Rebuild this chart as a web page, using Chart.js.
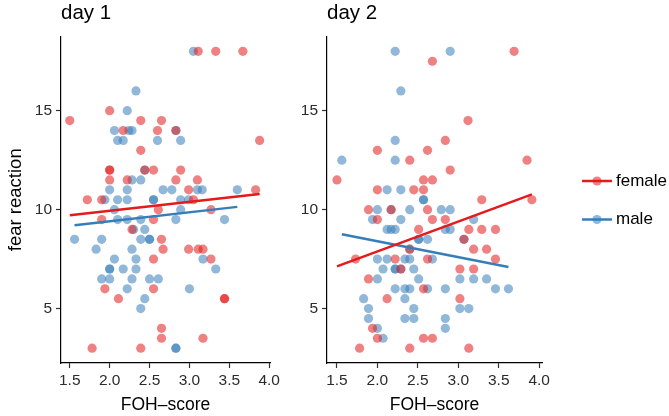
<!DOCTYPE html>
<html>
<head>
<meta charset="utf-8">
<script src="https://cdn.jsdelivr.net/npm/chart.js@4.4.1/dist/chart.umd.min.js"></script>
<style>
  body { margin: 0; background: #fff; width: 669px; height: 416px; position: relative; overflow: hidden; }
  canvas { position: absolute; top: 0; }
</style>
</head>
<body>
<canvas id="day1" width="290" height="416" style="left:0px"></canvas>
<canvas id="day2" width="384" height="416" style="left:285px"></canvas>
<script>
// tick labels
const xTicks = [1.5, 2.0, 2.5, 3.0, 3.5, 4.0];
const yTicks = [5, 10, 15];
const groups = ["female", "male"];
const panels = ["day 1", "day 2"];

// day 1 points (FOH-score, fear reaction)
const day1FemaleX = [2.00, 1.50, 2.39, 2.65, 2.17, 2.60, 2.83, 2.39, 3.88, 2.00, 2.00, 2.44, 2.55, 2.89, 2.00, 2.22,
  2.83, 3.10, 2.99, 3.83, 1.72, 1.90, 3.05, 2.61, 3.27, 1.90, 2.55, 2.28, 2.65, 2.67, 2.99, 3.11, 3.17, 2.55, 3.27,
  1.94, 2.55, 2.11, 3.44, 3.44, 2.65, 2.65, 3.17, 1.78, 2.39, 3.11, 3.33, 3.67];
const day1FemaleY = [15, 14.5, 14.5, 14.5, 14, 14, 14, 13, 13.5, 12, 12, 12, 12, 12, 11.5, 11.5,
  11.5, 11.5, 11, 11, 10.5, 10.5, 10.5, 10, 10, 9.5, 9.5, 9, 8.5, 8, 8, 8, 8, 7.5, 7.5,
  6, 6, 5.5, 5.5, 5.5, 4, 3.5, 3.5, 3, 3, 18, 18, 18];
const day1MaleX = [2.33, 2.22, 3.05, 2.06, 2.24, 2.28, 2.83, 2.10, 2.17, 2.60, 2.89, 2.44, 2.28, 2.39, 2.00, 2.22,
  2.67, 2.78, 3.10, 3.16, 3.60, 1.94, 2.10, 2.22, 2.55, 2.55, 2.89, 2.99, 2.06, 2.89, 2.10, 2.22, 2.39, 2.83, 3.44,
  2.30, 2.44, 1.56, 1.90, 2.39, 2.50, 2.50, 1.83, 2.28, 2.06, 2.33, 3.17, 2.00, 2.00, 2.17, 2.33, 3.33,
  1.90, 2.00, 2.28, 2.50, 2.61, 2.22, 3.00, 2.44, 2.39, 2.83, 2.83];
const day1MaleY = [16, 15, 18, 14, 14, 14, 14, 13.5, 13.5, 13.5, 13.5, 12, 11.5, 11.5, 11, 11,
  11, 11, 11, 11, 11, 10.5, 10.5, 10.5, 10.5, 10.5, 10.5, 10.5, 10, 10, 9.5, 9.5, 9.5, 9.5, 9.5,
  9, 9, 8.5, 8.5, 8.5, 8.5, 8.5, 8, 8, 7.5, 7.5, 7.5, 7, 7, 7, 7, 7,
  6.5, 6.5, 6.5, 6.5, 6.5, 6, 6, 5.5, 5, 3, 3];

// day 2 points
const day2FemaleX = [2.68, 3.69, 3.12, 2.84, 2.00, 2.62, 2.40, 3.85, 2.90, 1.50, 2.57, 2.68, 2.00, 2.45, 2.57, 3.29,
  3.91, 1.89, 2.17, 2.62, 2.00, 2.68, 2.84, 2.51, 3.13, 3.29, 3.46, 3.07, 2.40, 3.19, 3.35, 1.73, 2.22, 2.62, 3.46,
  2.29, 3.02, 3.19, 1.89, 2.57, 2.12, 3.02, 1.94, 2.00, 2.57, 2.68, 1.78, 2.40, 3.13];
const day2FemaleY = [17.5, 18, 14.5, 13.5, 13, 13, 12.5, 12.5, 12, 11.5, 11.5, 11.5, 11, 11, 11, 10.5,
  10.5, 10, 10, 10, 9.5, 9.5, 9.5, 9, 9, 9, 9, 8.5, 8, 8, 8, 7.5, 7.5, 7.5, 7.5,
  7, 7, 7, 6.5, 6, 5.5, 5.5, 4, 3.5, 3.5, 3.5, 3, 3, 3];
const day2MaleX = [2.22, 2.90, 2.29, 2.22, 1.56, 2.22, 2.12, 2.29, 2.57, 2.57, 2.00, 2.17, 2.40, 2.79, 2.90, 1.94,
  2.29, 3.19, 2.12, 2.17, 2.22, 2.84, 2.90, 2.51, 2.51, 2.62, 3.07, 2.40, 2.00, 2.12, 2.34, 2.40, 2.68,
  2.07, 2.22, 2.22, 2.29, 2.45, 2.00, 2.51, 3.02, 3.19, 3.35, 2.22, 2.34, 2.40, 2.62, 2.84, 3.46, 3.62,
  1.83, 2.34, 1.89, 2.45, 3.02, 3.13, 1.89, 2.34, 2.45, 2.84, 2.00, 2.84, 2.07];
const day2MaleY = [18, 18, 16, 13.5, 12.5, 12.5, 11, 11, 10.5, 10.5, 10, 10, 10, 10, 10, 9.5,
  9.5, 9.5, 9, 9, 9, 9, 9, 8.5, 8.5, 8.5, 8.5, 8, 7.5, 7.5, 7.5, 7.5, 7.5,
  7, 7, 7, 7, 7, 6.5, 6.5, 6.5, 6.5, 6.5, 6, 6, 6, 6, 6, 6, 6,
  5.5, 5.5, 5, 5, 5, 5, 4.5, 4.5, 4.5, 4.5, 4, 4, 3.5];

// fitted lines (end points)
const day1FemaleFitX = [1.50, 3.88], day1FemaleFitY = [9.72, 10.79];
const day1MaleFitX = [1.56, 3.60], day1MaleFitY = [9.21, 10.14];
const day2FemaleFitX = [1.50, 3.91], day2FemaleFitY = [7.13, 10.77];
const day2MaleFitX = [1.56, 3.62], day2MaleFitY = [8.76, 7.10];

const FONT = "'Liberation Sans', Arial, Helvetica, sans-serif";
const RED = "#E41A1C", BLUE = "#377EB8";
const RED_A = "rgba(228,26,28,0.55)", BLUE_A = "rgba(55,126,184,0.55)";

function toPoints(xs, ys) {
  return xs.map((x, i) => ({ x: x, y: ys[i] }));
}

// panel strip title, left aligned on the panel
const panelTitle = {
  id: "panelTitle",
  afterDraw(chart, args, opts) {
    const ctx = chart.ctx;
    ctx.save();
    ctx.font = "20.5px " + FONT;
    ctx.fillStyle = "#000";
    ctx.textBaseline = "alphabetic";
    ctx.textAlign = "left";
    ctx.fillText(opts.text, chart.chartArea.left, 18.5);
    ctx.restore();
  }
};

// ggplot-like legend on the right of day 2
const sideLegend = {
  id: "sideLegend",
  afterDraw(chart, args, opts) {
    if (!opts.show) return;
    const ctx = chart.ctx;
    const cols = [[RED, RED_A], [BLUE, BLUE_A]];
    ctx.save();
    groups.forEach((g, i) => {
      const y = 181 + i * 38.5;
      ctx.strokeStyle = cols[i][0];
      ctx.lineWidth = 2.5;
      ctx.beginPath();
      ctx.moveTo(297, y);
      ctx.lineTo(327, y);
      ctx.stroke();
      ctx.fillStyle = cols[i][1];
      ctx.beginPath();
      ctx.arc(312, y, 4.6, 0, Math.PI * 2);
      ctx.fill();
      ctx.fillStyle = "#000";
      ctx.font = "17px " + FONT;
      ctx.textBaseline = "middle";
      ctx.fillText(g, 331, y);
    });
    ctx.restore();
  }
};

function makePanel(id, p) {
  return new Chart(document.getElementById(id), {
    type: "scatter",
    data: {
      datasets: [
        { type: "line", data: toPoints(p.fitFX, p.fitFY), borderColor: RED, borderWidth: 2.5, pointRadius: 0, order: 0 },
        { type: "line", data: toPoints(p.fitMX, p.fitMY), borderColor: BLUE, borderWidth: 2.5, pointRadius: 0, order: 0 },
        { data: toPoints(p.fx, p.fy), backgroundColor: RED_A, borderWidth: 0, pointRadius: 4.6, order: 1 },
        { data: toPoints(p.mx, p.my), backgroundColor: BLUE_A, borderWidth: 0, pointRadius: 4.6, order: 1 },
      ],
    },
    options: {
      responsive: false,
      animation: false,
      events: [],
      layout: { padding: { top: 36.5, right: p.padRight, bottom: 0, left: 0 } },
      scales: {
        x: {
          type: "linear",
          min: p.xMin,
          max: p.xMax,
          afterBuildTicks: (s) => { s.ticks = xTicks.map((v) => ({ value: v })); },
          afterFit: (s) => { s.height = 53; },
          border: { display: true, color: "#000", width: 1.2 },
          grid: { drawOnChartArea: false, drawTicks: true, tickLength: 5, tickColor: "#333", tickWidth: 1.2 },
          ticks: { color: "#2b2b2b", font: { family: FONT, size: 15.5 }, padding: 3, maxRotation: 0,
                   callback: (v) => v.toFixed(1) },
          title: { display: true, text: "FOH\u2013score", color: "#000", font: { family: FONT, size: 17.5 },
                   padding: { top: 0, bottom: 0 } },
        },
        y: {
          min: 2.25,
          max: 18.75,
          afterBuildTicks: (s) => { s.ticks = yTicks.map((v) => ({ value: v })); },
          afterFit: (s) => { s.width = p.yWidth; },
          border: { display: true, color: "#000", width: 1.2 },
          grid: { drawOnChartArea: false, drawTicks: true, tickLength: 5, tickColor: "#333", tickWidth: 1.2 },
          ticks: { color: "#2b2b2b", font: { family: FONT, size: 15.5 }, padding: 4 },
          title: { display: p.yTitle, text: "fear reaction", color: "#000", font: { family: FONT, size: 18.5 },
                   padding: { top: 4.5, bottom: 0 } },
        },
      },
      plugins: {
        legend: { display: false },
        tooltip: { enabled: false },
        panelTitle: { text: p.title },
        sideLegend: { show: p.legend },
      },
    },
    plugins: [panelTitle, sideLegend],
  });
}

makePanel("day1", {
  title: panels[0], fx: day1FemaleX, fy: day1FemaleY, mx: day1MaleX, my: day1MaleY,
  fitFX: day1FemaleFitX, fitFY: day1FemaleFitY, fitMX: day1MaleFitX, fitMY: day1MaleFitY,
  xMin: 1.39, xMax: 4.01, yWidth: 61, padRight: 20, yTitle: true, legend: false,
});
makePanel("day2", {
  title: panels[1], fx: day2FemaleX, fy: day2FemaleY, mx: day2MaleX, my: day2MaleY,
  fitFX: day2FemaleFitX, fitFY: day2FemaleFitY, fitMX: day2MaleFitX, fitMY: day2MaleFitY,
  xMin: 1.377, xMax: 4.035, yWidth: 42, padRight: 127, yTitle: false, legend: true,
});
</script>
</body>
</html>
